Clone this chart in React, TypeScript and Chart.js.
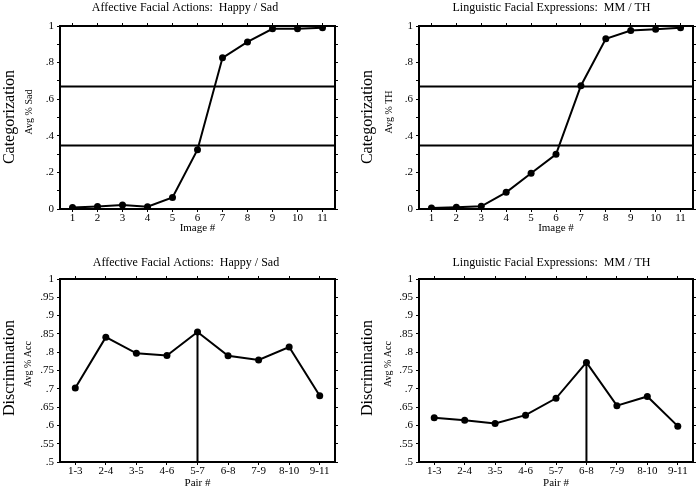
import React, { useEffect, useRef } from "react";
import { Chart, registerables } from "chart.js";

Chart.register(...registerables);

// ---------- data ----------
const imageLabels = ["1", "2", "3", "4", "5", "6", "7", "8", "9", "10", "11"];
const pairLabels = ["1-3", "2-4", "3-5", "4-6", "5-7", "6-8", "7-9", "8-10", "9-11"];

const affectiveCategorization = [0.008, 0.014, 0.022, 0.012, 0.063, 0.324, 0.826, 0.913, 0.985, 0.985, 0.99];
const linguisticCategorization = [0.006, 0.01, 0.015, 0.091, 0.195, 0.299, 0.674, 0.93, 0.975, 0.982, 0.991];

const affectiveDiscrimination = [0.702, 0.841, 0.797, 0.791, 0.855, 0.79, 0.779, 0.814, 0.681];
const linguisticDiscrimination = [0.621, 0.614, 0.605, 0.628, 0.674, 0.772, 0.654, 0.679, 0.598];

const categoryBoundaryLines = [0.67, 0.347];
const affectivePeakPair = "5-7";
const linguisticPeakPair = "6-8";

const FONT = '"Liberation Serif", "Times New Roman", serif';

function fmt(v: number): string {
  const r = Math.round(v * 1000) / 1000;
  if (r === 0) return "0";
  if (r === 1) return "1";
  return String(r).replace(/^0/, "");
}

type PanelProps = {
  left: number;
  top: number;
  labels: string[];
  values: number[];
  yMin: number;
  yMax: number;
  yStep: number;
  labelEvery: number;
  hLines: number[];
  vLabel: string | null;
  title: string;
  titleX: number;
  titleY: number;
  big: string;
  bigX: number;
  bigY: number;
  small: string;
  smallX: number;
  smallY: number;
  xTitle: string;
  xTitleY: number;
  padding: { left: number; right: number; top: number; bottom: number };
};

function Panel(p: PanelProps) {
  const ref = useRef<HTMLCanvasElement | null>(null);
  useEffect(() => {
    if (!ref.current) return;
    const grid = {
      display: true,
      drawOnChartArea: false,
      drawTicks: true,
      tickLength: 3,
      color: "#000",
      lineWidth: 1,
    };
    const border = { display: true, color: "#000", width: 2 };
    const tickFont = { family: FONT, size: 11 };

    const annot = {
      id: "panelAnnotations",
      beforeDatasetsDraw(chart: any) {
        const ctx = chart.ctx;
        const area = chart.chartArea;
        const ys = chart.scales.y;
        const xs = chart.scales.x;
        ctx.save();
        ctx.strokeStyle = "#000";
        ctx.lineWidth = 2;
        for (const v of p.hLines) {
          const py = ys.getPixelForValue(v);
          ctx.beginPath();
          ctx.moveTo(area.left, py);
          ctx.lineTo(area.right, py);
          ctx.stroke();
        }
        if (p.vLabel !== null) {
          const idx = p.labels.indexOf(p.vLabel);
          const px = xs.getPixelForValue(idx);
          const py = ys.getPixelForValue(p.values[idx]);
          ctx.beginPath();
          ctx.moveTo(px, py);
          ctx.lineTo(px, area.bottom);
          ctx.stroke();
        }
        ctx.restore();
      },
      afterDraw(chart: any) {
        const ctx = chart.ctx;
        const area = chart.chartArea;
        ctx.save();
        ctx.fillStyle = "#000";
        ctx.textAlign = "center";
        ctx.textBaseline = "middle";
        ctx.font = `12px ${FONT}`;
        ctx.fillText(p.title, p.titleX, p.titleY);
        ctx.font = `11px ${FONT}`;
        ctx.fillText(p.xTitle, (area.left + area.right) / 2, p.xTitleY);
        ctx.save();
        ctx.translate(p.bigX, p.bigY);
        ctx.rotate(-Math.PI / 2);
        ctx.font = `16px ${FONT}`;
        ctx.fillText(p.big, 0, 0);
        ctx.restore();
        ctx.save();
        ctx.translate(p.smallX, p.smallY);
        ctx.rotate(-Math.PI / 2);
        ctx.font = `10px ${FONT}`;
        ctx.fillText(p.small, 0, 0);
        ctx.restore();
        ctx.restore();
      },
    };

    const yCallback = (value: any) => {
      const v = Number(value);
      const k = Math.round((v - p.yMin) / p.yStep);
      return k % p.labelEvery === 0 ? fmt(v) : "";
    };

    const chart = new Chart(ref.current, {
      type: "line",
      data: {
        labels: p.labels,
        datasets: [
          {
            data: p.values,
            borderColor: "#000",
            backgroundColor: "#000",
            borderWidth: 2,
            pointRadius: 3.5,
            pointBackgroundColor: "#000",
            pointBorderColor: "#000",
            pointBorderWidth: 0,
            tension: 0,
            fill: false,
          },
        ],
      },
      options: {
        animation: false,
        responsive: false,
        events: [],
        layout: { padding: p.padding },
        plugins: {
          legend: { display: false },
          title: { display: false },
          tooltip: { enabled: false },
        },
        scales: {
          x: {
            type: "category",
            position: "bottom",
            offset: true,
            grid: { ...grid, offset: false },
            border,
            ticks: { color: "#000", font: tickFont, padding: 0, maxRotation: 0, autoSkip: false },
            afterFit: (s: any) => {
              s.height = 20;
            },
          },
          xTop: {
            type: "category",
            position: "top",
            offset: true,
            grid: { ...grid, offset: false },
            border,
            ticks: { display: false, autoSkip: false },
            afterFit: (s: any) => {
              s.height = 0;
            },
          },
          y: {
            type: "linear",
            position: "left",
            min: p.yMin,
            max: p.yMax,
            grid,
            border,
            ticks: { stepSize: p.yStep, color: "#000", font: tickFont, padding: 3, callback: yCallback },
            afterFit: (s: any) => {
              s.width = 30;
            },
          },
          yRight: {
            type: "linear",
            position: "right",
            min: p.yMin,
            max: p.yMax,
            grid,
            border,
            ticks: { stepSize: p.yStep, display: false },
            afterFit: (s: any) => {
              s.width = 0;
            },
          },
        },
      } as any,
      plugins: [annot],
    });
    return () => chart.destroy();
  }, []);
  return (
    <canvas
      ref={ref}
      width={350}
      height={245}
      style={{ position: "absolute", left: p.left, top: p.top, width: 350, height: 245 }}
    />
  );
}

export default function App() {
  return (
    <div style={{ position: "fixed", left: 0, top: 0, width: 700, height: 490, background: "#fff" }}>
      <Panel
        left={0}
        top={0}
        labels={imageLabels}
        values={affectiveCategorization}
        yMin={0}
        yMax={1}
        yStep={0.1}
        labelEvery={2}
        hLines={categoryBoundaryLines}
        vLabel={null}
        title="Affective Facial Actions:  Happy / Sad"
        titleX={185}
        titleY={8}
        big="Categorization"
        bigX={10}
        bigY={117}
        small="Avg % Sad"
        smallX={29}
        smallY={112}
        xTitle="Image #"
        xTitleY={228}
        padding={{ left: 30, right: 15, top: 26, bottom: 16 }}
      />
      <Panel
        left={350}
        top={0}
        labels={imageLabels}
        values={linguisticCategorization}
        yMin={0}
        yMax={1}
        yStep={0.1}
        labelEvery={2}
        hLines={categoryBoundaryLines}
        vLabel={null}
        title="Linguistic Facial Expressions:  MM / TH"
        titleX={201.5}
        titleY={8}
        big="Categorization"
        bigX={18}
        bigY={117}
        small="Avg % TH"
        smallX={39}
        smallY={112}
        xTitle="Image #"
        xTitleY={228}
        padding={{ left: 39, right: 7, top: 26, bottom: 16 }}
      />
      <Panel
        left={0}
        top={245}
        labels={pairLabels}
        values={affectiveDiscrimination}
        yMin={0.5}
        yMax={1}
        yStep={0.05}
        labelEvery={1}
        hLines={[]}
        vLabel={affectivePeakPair}
        title="Affective Facial Actions:  Happy / Sad"
        titleX={186}
        titleY={18}
        big="Discrimination"
        bigX={10}
        bigY={123}
        small="Avg % Acc"
        smallX={28}
        smallY={119}
        xTitle="Pair #"
        xTitleY={238}
        padding={{ left: 30, right: 15, top: 34, bottom: 8 }}
      />
      <Panel
        left={350}
        top={245}
        labels={pairLabels}
        values={linguisticDiscrimination}
        yMin={0.5}
        yMax={1}
        yStep={0.05}
        labelEvery={1}
        hLines={[]}
        vLabel={linguisticPeakPair}
        title="Linguistic Facial Expressions:  MM / TH"
        titleX={201.5}
        titleY={18}
        big="Discrimination"
        bigX={18}
        bigY={123}
        small="Avg % Acc"
        smallX={38}
        smallY={119}
        xTitle="Pair #"
        xTitleY={238}
        padding={{ left: 39, right: 7, top: 34, bottom: 8 }}
      />
    </div>
  );
}
